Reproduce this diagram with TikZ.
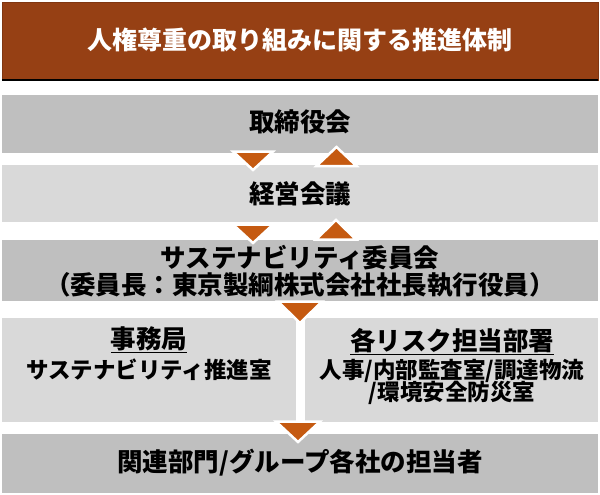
\documentclass[tikz,border=0pt]{standalone}
\usepackage{fontspec}
\usepackage{tikz}
\usetikzlibrary{positioning}
\newfontfamily\jpfont{Noto Sans CJK JP}
\definecolor{titlebrown}{RGB}{150, 64, 20}
\definecolor{arroworange}{RGB}{197, 90, 17}
\definecolor{boxdark}{RGB}{191, 191, 191}
\definecolor{boxlight}{RGB}{217, 217, 217}

\begin{document}
\begin{tikzpicture}[x=1pt, y=-1pt,
        box/.style={rectangle, inner sep=0pt, minimum width=596pt},
        darkbox/.style={box, fill=boxdark},
        lightbox/.style={box, fill=boxlight},
        label/.style={inner sep=0pt, anchor=base, font=\jpfont\bfseries\fontsize{25.5}{27}\selectfont},
        sublabel/.style={label, font=\jpfont\bfseries\fontsize{22.5}{24}\selectfont},
        tri/.style={fill=arroworange, draw=white, line width=2.5pt, line join=miter}
    ]
        \useasboundingbox (0,0) rectangle (600,495);

        % Title
        \node[box, fill=titlebrown, draw=titlebrown!85!black, minimum height=78pt] (title) at (300,41) {};
        \node[label, text=white, font=\jpfont\bfseries\fontsize{25}{27}\selectfont] (titletext) at (300,50) {人権尊重の取り組みに関する推進体制};
        \draw[line width=1.5pt] (title.south west) -- (title.south east);

        % Board
        \node[darkbox, minimum height=58pt] (board) at (300,124) {};
        \node[label] (boardtext) at (300,131) {取締役会};

        % Management meeting
        \node[lightbox, minimum height=57pt] (mgmt) at (300,193.5) {};
        \node[label] (mgmttext) at (300,203) {経営会議};

        % Sustainability committee
        \node[darkbox, minimum height=61pt] (comm) at (300,270.5) {};
        \node[label] (commtext) at (300,267) {サステナビリティ委員会};
        \node[label] (chairtext) at (300,294) {（委員長：東京製綱株式会社社長執行役員）};

        % Secretariat
        \node[box, fill=boxlight, minimum width=294pt, minimum height=104pt] (secr) at (149,370) {};
        \node[label] (secrhead) at (149,348) {\underline{事務局}};
        \node[sublabel] (secrbody) at (149,378) {サステナビリティ推進室};

        % Risk departments
        \node[box, fill=boxlight, minimum width=293pt, minimum height=104pt] (risk) at (451.5,370) {};
        \node[label] (riskhead) at (452,350) {\underline{各リスク担当部署}};
        \node[sublabel] (riskbody) at (452,378) {人事/内部監査室/調達物流};
        \node[sublabel] (riskbody2) at (452,400) {/環境安全防災室};

        % Related departments
        \node[darkbox, minimum height=59pt] (rel) at (300,463.5) {};
        \node[label] (reltext) at (300,471) {関連部門/グループ各社の担当者};

        % Arrows
        \draw[tri] (233,151.5) -- (273,151.5) -- (253,170) -- cycle;
        \draw[tri] (316.5,166) -- (356.5,166) -- (336.5,147) -- cycle;
        \draw[tri] (233,224.5) -- (273,224.5) -- (253,243) -- cycle;
        \draw[tri] (316,239.5) -- (356,239.5) -- (336,220) -- cycle;
        \draw[tri] (278,301.5) -- (322,301.5) -- (300,323) -- cycle;
        \draw[tri] (276,421.5) -- (320,421.5) -- (298,442) -- cycle;

    \end{tikzpicture}
\end{document}
